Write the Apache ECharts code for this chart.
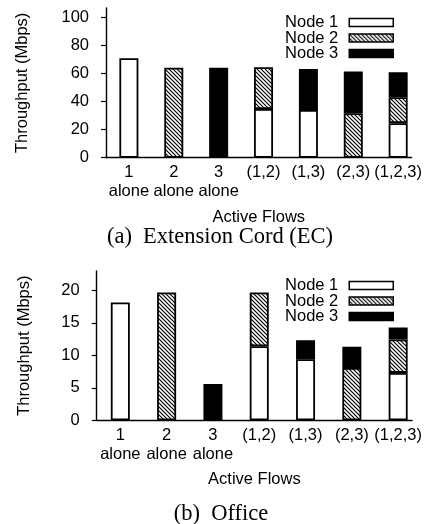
<!DOCTYPE html>
<html>
<head>
<meta charset="utf-8">
<script src="https://cdn.jsdelivr.net/npm/echarts@6/dist/echarts.min.js"></script>
<style>
  html, body { margin: 0; padding: 0; background: #fff; }
  #chart { width: 425px; height: 524px; }
</style>
</head>
<body>
<div id="chart"></div>
<script>
// categories (x ticks)
const flows = ['1\nalone', '2\nalone', '3\nalone', '(1,2)', '(1,3)', '(2,3)', '(1,2,3)']
const nodes = ['Node 1', 'Node 2', 'Node 3']

// (a) Extension Cord, Mbps (null = flow not active)
const ecNode1 = [70.8, null, null, 34.7, 34.0, null, 24.6]
const ecNode2 = [null, 64.1, null, 29.7, null, 31.6, 18.4]
const ecNode3 = [null, null, 64.1, null, 29.2, 29.7, 17.9]

// (b) Office, Mbps
const offNode1 = [18.15, null, null, 11.4, 9.4, null, 7.3]
const offNode2 = [null, 19.7, null, 8.3, null, 8.07, 5.15]
const offNode3 = [null, null, 5.6, null, 2.95, 3.25, 1.85]

const ecTicks = [0, 20, 40, 60, 80, 100]
const offTicks = [0, 5, 10, 15, 20]
const flowTicks = [0, 1, 2, 3, 4, 5, 6]

const FONT = '"Liberation Sans", Arial, sans-serif'
const SERIF = '22.5px "Liberation Serif", "Times New Roman", serif'

// hatched fill "\\\\" for node 2
function hatch() {
  const c = document.createElement('canvas')
  c.width = 4
  c.height = 4
  const g = c.getContext('2d')
  g.fillStyle = '#fff'
  g.fillRect(0, 0, 4, 4)
  g.strokeStyle = '#000'
  g.lineWidth = 1.2
  g.beginPath()
  g.moveTo(-1, -1); g.lineTo(5, 5)
  g.moveTo(-1, 3); g.lineTo(1, 5)
  g.moveTo(3, -1); g.lineTo(5, 1)
  g.stroke()
  return c
}
const fills = ['#fff', {image: hatch(), repeat: 'repeat'}, '#000']

// value first so the stack is done on the y dimension
function toPoints(arr) {
  return arr.map((v, i) => [v == null ? '-' : v, i])
}

function barSeries(idx, arrs) {
  return arrs.map((arr, k) => ({
    name: nodes[k],
    type: 'bar',
    stack: 'flow' + idx,
    xAxisIndex: idx,
    yAxisIndex: idx,
    barWidth: 19,
    encode: {x: 1, y: 0},
    data: toPoints(arr),
    itemStyle: {
      color: fills[k],
      borderColor: '#000',
      borderWidth: 1.8
    },
    emphasis: {disabled: true}
  }))
}

function xAxis(idx) {
  return {
    type: 'value',
    gridIndex: idx,
    min: -0.51,
    max: 6.3,
    name: 'Active Flows',
    nameLocation: 'middle',
    nameGap: 51,
    nameTextStyle: {color: '#000', fontSize: 16.5, fontFamily: FONT},
    axisLine: {show: true, onZero: false, lineStyle: {color: '#000', width: 1.4}},
    axisTick: {show: false},
    splitLine: {show: false},
    axisLabel: {
      customValues: flowTicks,
      formatter: v => flows[v],
      color: '#000',
      fontSize: 16.5,
      lineHeight: 18.5,
      fontFamily: FONT,
      margin: 6
    }
  }
}

function yAxis(idx, max, ticks, gap) {
  return {
    type: 'value',
    gridIndex: idx,
    min: 0,
    max: max,
    name: 'Throughput (Mbps)',
    nameLocation: 'middle',
    nameRotate: 90,
    nameGap: gap,
    nameTextStyle: {color: '#000', fontSize: 16.5, fontFamily: FONT},
    axisLine: {show: true, onZero: false, lineStyle: {color: '#000', width: 1.4}},
    axisTick: {show: true, customValues: ticks, length: 5, lineStyle: {color: '#000', width: 1.2}},
    splitLine: {show: false},
    axisLabel: {
      customValues: ticks,
      color: '#000',
      fontSize: 16.5,
      fontFamily: FONT,
      margin: 17
    }
  }
}

function legend(top) {
  return {
    data: nodes,
    orient: 'vertical',
    right: 26,
    top: top,
    align: 'right',
    icon: 'rect',
    itemWidth: 44,
    itemHeight: 8,
    itemGap: -1.5,
    selectedMode: false,
    itemStyle: {borderColor: '#000', borderWidth: 1.5},
    textStyle: {color: '#000', fontSize: 16.5, lineHeight: 16, fontFamily: FONT, padding: [0, 6, 0, 0]}
  }
}

const myChart = echarts.init(document.getElementById('chart'), null, {renderer: 'canvas'})
myChart.setOption({
  animation: false,
  backgroundColor: '#fff',
  grid: [
    {left: 106, top: 8, width: 307, height: 149.7},
    {left: 96.7, top: 271, width: 317.3, height: 149.3}
  ],
  xAxis: [xAxis(0), xAxis(1)],
  yAxis: [yAxis(0, 106.6, ecTicks, 75), yAxis(1, 23, offTicks, 64)],
  legend: [legend(9), legend(272)],
  graphic: [
    {
      type: 'text', x: 220, y: 237,
      style: {text: '(a)  Extension Cord (EC)', fill: '#000', font: SERIF, align: 'center', verticalAlign: 'middle'}
    },
    {
      type: 'text', x: 221, y: 514,
      style: {text: '(b)  Office', fill: '#000', font: SERIF, align: 'center', verticalAlign: 'middle'}
    }
  ],
  series: barSeries(0, [ecNode1, ecNode2, ecNode3]).concat(barSeries(1, [offNode1, offNode2, offNode3]))
})
</script>
</body>
</html>
